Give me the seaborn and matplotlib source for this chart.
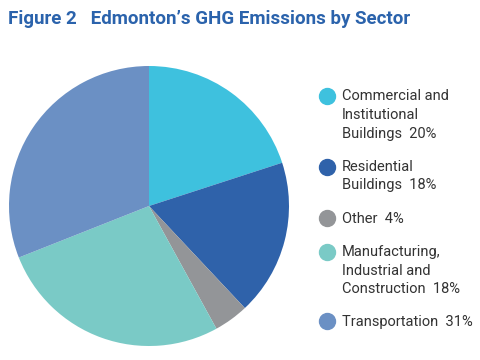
import matplotlib.pyplot as plt
import seaborn as sns
from matplotlib.lines import Line2D
from matplotlib.legend_handler import HandlerLine2D
from matplotlib.transforms import Affine2D

# sector names, the percentages printed in the legend, and slice sizes
sectors = ["Commercial and\nInstitutional\nBuildings", "Residential\nBuildings", "Other",
           "Manufacturing,\nIndustrial and\nConstruction", "Transportation"]
label_pct = [20, 18, 4, 18, 31]
slice_values = [20, 18, 4, 27, 31]
colors = ["#3EC1DE", "#2F62AA", "#939598", "#7ACAC6", "#6B90C4"]

LINESPACING = 1.42
FONT = ["Liberation Sans Narrow", "Roboto", "DejaVu Sans"]


class FirstLineHandler(HandlerLine2D):
    # put the legend dot next to the first line of a multi-line label
    def __init__(self, nlines, **kw):
        super().__init__(**kw)
        self.nlines = nlines

    def create_artists(self, legend, orig_handle, xdescent, ydescent, width, height, fontsize, trans):
        artists = super().create_artists(legend, orig_handle, xdescent, ydescent,
                                         width, height, fontsize, trans)
        dy = (self.nlines - 1) / 2 * LINESPACING * 0.918 * fontsize
        for a in artists:
            a.set_transform(Affine2D().translate(0, dy) + trans)
        return artists


sns.set_theme(style="white")
plt.rcParams["font.family"] = FONT

fig = plt.figure(figsize=(4.8, 3.6), dpi=100)
ax = fig.add_axes([9 / 480, 14 / 360, 280 / 480, 280 / 360])

palette = sns.color_palette(colors)
ax.pie(slice_values, colors=palette, startangle=90, counterclock=False,
       wedgeprops=dict(linewidth=0))
ax.set_xlim(-1, 1)
ax.set_ylim(-1, 1)
ax.set_aspect("equal")
ax.axis("off")

labels = [f"{s}  {p}%" for s, p in zip(sectors, label_pct)]
handles = [Line2D([], [], linestyle="none", marker="o", markersize=11.5,
                  markerfacecolor=c, markeredgecolor=c) for c in palette]
handler_map = {h: FirstLineHandler(lab.count("\n") + 1) for h, lab in zip(handles, labels)}

leg = fig.legend(handles, labels, handler_map=handler_map, loc="upper left",
                 bbox_to_anchor=(312 / 480, 1 - 82 / 360), frameon=False,
                 prop=dict(family=FONT, size=10.5), labelcolor="#333333",
                 handlelength=1.0, handletextpad=0.55, labelspacing=1.32, borderpad=0)
for t in leg.get_texts():
    t.set_linespacing(LINESPACING)

fig.text(8 / 480, 1 - 10 / 360, "Figure 2   Edmonton\u2019s GHG Emissions by Sector",
         ha="left", va="top", fontsize=13.5, fontweight="bold", color="#2B63AC",
         family=FONT)

fig.savefig("out.png", dpi=100)
